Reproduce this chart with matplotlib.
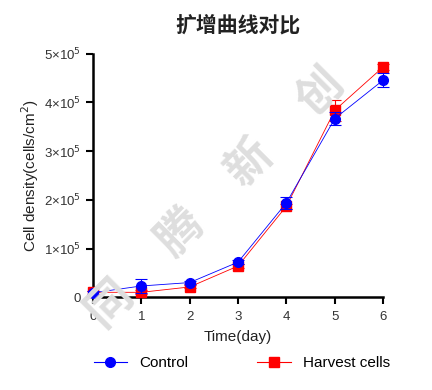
import matplotlib.pyplot as plt
from matplotlib.lines import Line2D

plt.rcParams['font.family'] = ['Liberation Sans', 'DejaVu Sans']

days = [0, 1, 2, 3, 4, 5, 6]
control = [0.09e5, 0.23e5, 0.30e5, 0.72e5, 1.94e5, 3.67e5, 4.46e5]
control_err = [0.03e5, 0.14e5, 0.03e5, 0.04e5, 0.12e5, 0.13e5, 0.14e5]
harvest = [0.10e5, 0.10e5, 0.21e5, 0.64e5, 1.87e5, 3.84e5, 4.73e5]
harvest_err = [0.03e5, 0.04e5, 0.03e5, 0.04e5, 0.05e5, 0.22e5, 0.06e5]
yticks = [0, 1e5, 2e5, 3e5, 4e5, 5e5]
ytick_labels = ['0', '1×10$^5$', '2×10$^5$', '3×10$^5$', '4×10$^5$', '5×10$^5$']
watermark = ['同', '腾', '新', '创']

fig = plt.figure(figsize=(4.32, 3.9), dpi=100)

# watermark, one character at a time along a 45 degree diagonal
for i, ch in enumerate(watermark):
    fig.text((110 + 70 * i) / 432, 1 - (303 - 70 * i) / 390, ch, ha='center', va='center',
             fontsize=33, rotation=45, color='#dedede', fontweight='bold', zorder=0,
             family=['Noto Sans CJK SC', 'DejaVu Sans'])

ax = fig.add_axes([0.215, 0.238, 0.672, 0.624])
ax.patch.set_alpha(0)

ax.errorbar(days, harvest, yerr=harvest_err, color='#ff0000', marker='s', markersize=7,
            linewidth=0.6, elinewidth=0.8, capsize=4, capthick=0.8, clip_on=False,
            zorder=3)
ax.errorbar(days, control, yerr=control_err, color='#0000ff', marker='o', markersize=7,
            linewidth=0.6, elinewidth=0.8, capsize=4, capthick=0.8, clip_on=False,
            zorder=4)

ax.set_xlim(0, 6)
ax.set_ylim(0, 5e5)
ax.set_xticks(days)
ax.set_yticks(yticks)
ax.set_yticklabels(ytick_labels)
for s in ['top', 'right']:
    ax.spines[s].set_visible(False)
for s in ['left', 'bottom']:
    ax.spines[s].set_linewidth(1.8)
ax.tick_params(direction='out', width=1.5, length=5, labelsize=9.5, labelcolor='#333333')
ax.tick_params(axis='x', pad=5)

ax.set_xlabel('Time(day)', fontsize=11, color='#222222', labelpad=5)
ax.set_ylabel('Cell density(cells/cm$^2$)', fontsize=11, color='#222222', labelpad=2)

fig.text(0.55, 0.935, '扩增曲线对比', ha='center', va='center', fontsize=15,
         fontweight='bold', color='#222222', family=['Noto Sans CJK SC', 'DejaVu Sans'])

handles = [Line2D([], [], color='#0000ff', marker='o', markersize=7, linewidth=0.8),
           Line2D([], [], color='#ff0000', marker='s', markersize=7, linewidth=0.8)]
fig.legend(handles, ['Control', 'Harvest cells'], loc='center',
           bbox_to_anchor=(0.56, 0.069), ncol=2, frameon=False, fontsize=11,
           columnspacing=4.5, handlelength=2.2)

fig.savefig('out.png', dpi=100)
